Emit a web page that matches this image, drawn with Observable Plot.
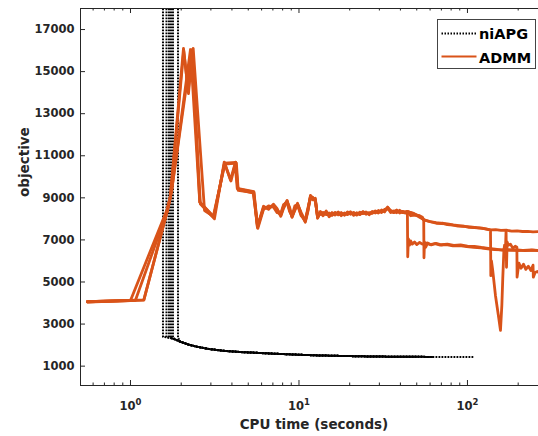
<!DOCTYPE html>
<html><head><meta charset="utf-8">
<script src="https://cdn.jsdelivr.net/npm/d3@7"></script>
<script src="https://cdn.jsdelivr.net/npm/@observablehq/plot@0.6"></script>
<style>
body{margin:0;background:#fff;}
#chart{position:relative;width:538px;height:436px;overflow:hidden;}
#chart svg{display:block;}
</style>
</head><body><div id="chart"></div>
<script>
// ---------- data ----------
const yTicks = [1000, 3000, 5000, 7000, 9000, 11000, 13000, 15000, 17000];
const xMajor = [1, 10, 100];
const xMinor = [0.6, 0.7, 0.8, 0.9, 2, 3, 4, 5, 6, 7, 8, 9, 20, 30, 40, 50, 60, 70, 80, 90, 200];
const xTickLabels = ["10⁰", "10¹", "10²"];
const seriesNames = ["niAPG", "ADMM"];

// niAPG runs: start time, initial objective (off the chart), value after first step, end time
const niapgStart = [1.559, 1.635, 1.692, 1.739, 1.787, 1.914];
const niapgInit = 100000;
const niapgDrop = [2390, 2370, 2380, 2360, 2370, 2350];
const niapgEnd = [63, 58, 63, 50, 110, 63];
const niapgCurveT = [1.65, 1.75, 1.85, 1.98, 2.2, 2.49, 2.9, 3.56, 4.5, 5.75, 6.77, 8.3, 10.2, 13, 16.8, 21, 26.5, 33, 40, 50, 58, 63, 80, 110];
const niapgCurveV = [2370, 2330, 2260, 2160, 2030, 1920, 1820, 1730, 1670, 1630, 1600, 1570, 1540, 1510, 1490, 1475, 1460, 1452, 1446, 1442, 1440, 1440, 1435, 1430];

// ADMM runs: early part
const admmA_T = [0.555, 1.0, 1.64, 1.72, 2.063, 2.209, 2.33, 2.578, 3.122, 3.613, 3.922, 4.2, 4.333, 5.393, 5.673];
const admmA_V = [4060, 4120, 8400, 9000, 16100, 13950, 16050, 8790, 8080, 10660, 9850, 10700, 9430, 9270, 7590];
const admmB_T = [0.555, 1.07, 1.65, 1.73, 2.07, 2.2, 2.356, 2.75, 3.1, 3.63, 4.25, 4.36, 5.35, 5.7];
const admmB_V = [4060, 4130, 8350, 9100, 16000, 14100, 16100, 8400, 8120, 10600, 10650, 9350, 9250, 7550];
const admmC_T = [0.555, 1.2, 1.66, 1.75, 2.30, 2.6, 3.15, 3.6, 3.95, 4.18, 4.3, 5.4, 5.68];
const admmC_V = [4050, 4140, 8450, 9300, 16000, 8700, 8000, 10700, 9800, 10600, 9450, 9300, 7650];
const admmD_T = [0.555, 1.2, 1.67, 1.76, 2.27, 2.578, 3.12, 3.62, 4.22, 4.34, 5.38, 5.66];
const admmD_V = [4070, 4150, 8500, 9400, 16050, 8800, 8100, 10650, 10680, 9400, 9220, 7620];

// ADMM middle band (t 6 .. 43)
const midT = [6.16, 6.6, 7.05, 7.4, 7.8, 8.1, 8.5, 8.8, 9.1, 9.45,
  9.8, 10.3, 10.9, 11.3, 11.7, 12.1, 12.5, 12.9, 13.4, 13.9,
  14.5, 15.1, 15.7, 16.4, 17.1, 17.8, 18.6, 19.4, 20.2, 21.1,
  22, 23, 24, 25, 26.1, 27.2, 28.4, 29.6, 30.9, 32.2,
  33.6, 35, 36.5, 38, 39.6, 41.3, 43];
const midV1 = [8550, 8500, 8640, 8400, 8170, 8560, 8880, 8450, 8070, 8450,
  8740, 8250, 7840, 8350, 9120, 8950, 8980, 8030, 8350, 8200,
  8320, 8150, 8300, 8180, 8330, 8150, 8280, 8200, 8340, 8170,
  8290, 8200, 8350, 8220, 8300, 8260, 8380, 8280, 8420, 8330,
  8560, 8350, 8300, 8420, 8280, 8360, 8300];
const midV2 = [8450, 8620, 8560, 8300, 8260, 8680, 8800, 8350, 8150, 8620,
  8660, 8150, 7950, 8520, 9050, 9020, 8850, 8120, 8230, 8310,
  8200, 8280, 8160, 8310, 8190, 8300, 8170, 8330, 8220, 8310,
  8180, 8320, 8250, 8330, 8200, 8350, 8280, 8400, 8300, 8450,
  8480, 8400, 8340, 8290, 8410, 8300, 8340];
const midV3 = [8600, 8450, 8700, 8500, 8120, 8500, 8820, 8550, 8100, 8400,
  8700, 8300, 7900, 8420, 9000, 8900, 8920, 8080, 8280, 8150,
  8380, 8100, 8250, 8230, 8280, 8200, 8230, 8260, 8280, 8230,
  8240, 8260, 8300, 8260, 8250, 8300, 8330, 8330, 8370, 8380,
  8520, 8300, 8380, 8360, 8330, 8310, 8270];
const midV4 = [8500, 8560, 8600, 8450, 8200, 8620, 8850, 8400, 8120, 8500,
  8700, 8200, 7880, 8450, 9080, 8980, 8900, 8060, 8300, 8250,
  8250, 8220, 8200, 8260, 8240, 8250, 8220, 8280, 8250, 8260,
  8230, 8280, 8280, 8300, 8230, 8320, 8300, 8360, 8340, 8400,
  8540, 8380, 8320, 8380, 8350, 8330, 8320];

// ADMM late part (t >= 44)
const lateA_T = [44, 48, 52, 55, 58, 62, 66, 71, 76, 82, 88, 95, 102, 110, 119, 128, 137, 147, 158, 170, 183, 197, 212, 228, 245, 263, 280];
const lateA_V = [8340, 8260, 8120, 7950, 7900, 7840, 7790, 7800, 7730, 7700, 7660, 7650, 7600, 7590, 7560, 7530, 7480, 7490, 7450, 7460, 7420, 7430, 7400, 7410, 7380, 7390, 7370];
const lateB_T = [44, 44.2, 44.6, 45.3, 46, 47, 48.5, 50, 52, 54, 57, 60, 64, 69, 75, 82, 90, 99, 109, 120, 132, 145, 160, 178, 198, 220, 245, 275];
const lateB_V = [8330, 6200, 7050, 6750, 6950, 6800, 6900, 6780, 6880, 6800, 6850, 6780, 6820, 6750, 6780, 6720, 6730, 6680, 6650, 6620, 6580, 6540, 6530, 6500, 6520, 6490, 6510, 6500];
const lateC_T = [44, 46, 49, 52, 54, 55, 55.2, 55.6, 56.5, 58, 61, 65, 70, 76, 83, 91, 100, 110, 121, 133, 146, 161, 177, 195, 215, 240, 275];
const lateC_V = [8350, 8150, 8180, 8150, 8080, 7950, 6150, 6900, 6650, 6850, 6760, 6840, 6770, 6800, 6740, 6760, 6700, 6690, 6640, 6600, 6560, 6520, 6540, 6510, 6500, 6520, 6480];
const lateD_T = [44, 48, 52, 56, 60, 65, 70, 76, 82, 89, 96, 104, 113, 122, 130, 137, 137.6, 138.8, 141, 146.6,
  153.5, 157, 160, 162, 164.5, 166, 168, 169.5, 170.5, 172, 175, 180, 186, 192, 196.5, 197, 202, 208, 215, 222,
  230, 238, 245, 246, 252, 260, 270];
const lateD_V = [8360, 8240, 8080, 7940, 7870, 7820, 7780, 7760, 7710, 7680, 7640, 7620, 7580, 7560, 7510, 7470, 5300, 6000, 5600, 4360,
  3265, 2700, 3900, 5170, 6500, 6750, 6500, 7450, 5700, 6900, 6750, 6800, 6600, 6700, 6650, 5230, 5900, 5650, 5850, 5600,
  5750, 5550, 5800, 5230, 5450, 5500, 5400];

// ---------- build tables ----------
const niapgRows = [];
niapgStart.forEach((t0, i) => {
  const run = "niAPG" + i;
  niapgRows.push({run, t: t0, v: niapgInit});
  niapgRows.push({run, t: t0, v: niapgDrop[i]});
  niapgCurveT.forEach((t, j) => {
    if (t > t0 && t <= niapgEnd[i]) niapgRows.push({run, t, v: niapgCurveV[j]});
  });
});

const admmDefs = [
  ["A", admmA_T, admmA_V, midV1, lateA_T, lateA_V],
  ["B", admmB_T, admmB_V, midV2, lateB_T, lateB_V],
  ["C", admmC_T, admmC_V, midV3, lateC_T, lateC_V],
  ["D", admmD_T, admmD_V, midV4, lateD_T, lateD_V]
];
const admmRows = [];
admmDefs.forEach(([name, eT, eV, mV, lT, lV]) => {
  eT.forEach((t, i) => admmRows.push({run: name, t, v: eV[i]}));
  midT.forEach((t, i) => admmRows.push({run: name, t, v: mV[i]}));
  lT.forEach((t, i) => admmRows.push({run: name, t, v: lV[i]}));
});

// ---------- chart ----------
const axisColor = "#262626";
const orange = "#D95319";
const W = 538, H = 436, mL = 80, mR = 0, mT = 8, mB = 51;
const xDomain = [0.505, 264];
const yDomain = [80, 18000];
const frameH = H - mT - mB, frameW = W - mL - mR;

const chart = Plot.plot({
  width: W, height: H,
  marginLeft: mL, marginRight: mR, marginTop: mT, marginBottom: mB,
  style: {fontFamily: "DejaVu Sans", fontWeight: "bold", fontSize: "11.5px", color: axisColor, background: "white"},
  x: {type: "log", domain: xDomain, ticks: xMajor, tickFormat: d => xTickLabels[xMajor.indexOf(d)], tickSize: 0, tickPadding: 16, label: null},
  y: {domain: yDomain, ticks: yTicks, tickFormat: d => String(d), tickSize: 0, tickPadding: 6, label: null},
  marks: [
    Plot.line(niapgRows, {x: "t", y: "v", z: "run", stroke: "black", strokeWidth: 2, strokeDasharray: "1.8,1.2", strokeLinecap: "butt", strokeLinejoin: "miter", clip: true}),
    Plot.line(admmRows, {x: "t", y: "v", z: "run", stroke: orange, strokeWidth: 2.8, strokeLinejoin: "round", strokeLinecap: "round", clip: true}),
    // axis box (left, top, bottom)
    Plot.ruleY([yDomain[0], yDomain[1]], {y: d => d, stroke: axisColor, strokeWidth: 1}),
    Plot.ruleX([xDomain[0]], {x: d => d, stroke: axisColor, strokeWidth: 1}),
    // inward ticks
    Plot.tickX(xMajor, {x: d => d, insetTop: frameH - 5, stroke: axisColor}),
    Plot.tickX(xMinor, {x: d => d, insetTop: frameH - 2.5, stroke: axisColor}),
    Plot.tickX(xMajor, {x: d => d, insetBottom: frameH - 5, stroke: axisColor}),
    Plot.tickX(xMinor, {x: d => d, insetBottom: frameH - 2.5, stroke: axisColor}),
    Plot.tickY(yTicks, {y: d => d, insetRight: frameW - 5, stroke: axisColor}),
    // axis titles
    Plot.text(["objective"], {text: d => d, frameAnchor: "left", rotate: -90, dx: -56, fontSize: 13.5, fontWeight: "bold", fill: axisColor}),
    Plot.text(["CPU time (seconds)"], {text: d => d, frameAnchor: "bottom", dx: 4.5, dy: 43, fontSize: 13.5, fontWeight: "bold", fill: axisColor})
  ]
});

document.getElementById("chart").appendChild(chart);

// superscript exponents on x tick labels
const supMap = {"⁰": "0", "¹": "1", "²": "2"};
chart.querySelectorAll("text").forEach(t => {
  const s = t.textContent;
  if (/^10[⁰¹²]$/.test(s) && t.children.length === 0) {
    t.textContent = "10";
    const ts = document.createElementNS("http://www.w3.org/2000/svg", "tspan");
    ts.setAttribute("dy", "-5");
    ts.setAttribute("font-size", "8.5");
    ts.textContent = supMap[s[2]];
    t.appendChild(ts);
  }
});

// legend overlay
const ns = "http://www.w3.org/2000/svg";
const leg = document.createElementNS(ns, "svg");
leg.setAttribute("width", W); leg.setAttribute("height", H);
leg.style.position = "absolute"; leg.style.left = "0"; leg.style.top = "0"; leg.style.pointerEvents = "none";
function el(tag, attrs, text) {
  const e = document.createElementNS(ns, tag);
  for (const k in attrs) e.setAttribute(k, attrs[k]);
  if (text) e.textContent = text;
  leg.appendChild(e);
  return e;
}
el("rect", {x: 437.5, y: 19.5, width: 98, height: 49, fill: "white", stroke: "#444", "stroke-width": 1});
el("line", {x1: 441.5, x2: 476.5, y1: 33.5, y2: 33.5, stroke: "black", "stroke-width": 2, "stroke-dasharray": "1.5,1.5"});
el("line", {x1: 441.5, x2: 476.5, y1: 56.5, y2: 56.5, stroke: orange, "stroke-width": 2});
el("text", {x: 479, y: 39.3, "font-family": "DejaVu Sans", "font-weight": "bold", "font-size": 14.5, fill: "black"}, seriesNames[0]);
el("text", {x: 479, y: 62.7, "font-family": "DejaVu Sans", "font-weight": "bold", "font-size": 14.5, fill: "black"}, seriesNames[1]);
document.getElementById("chart").appendChild(leg);
</script></body></html>
